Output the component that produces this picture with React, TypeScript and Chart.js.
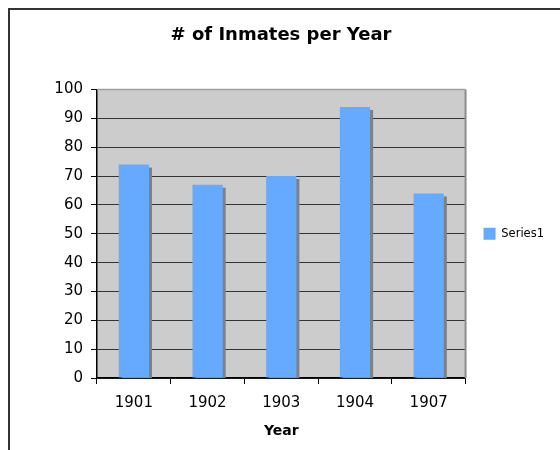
import React, { useEffect, useRef } from "react";
import { Chart, registerables } from "chart.js";

Chart.register(...registerables);

const categories = ["1901", "1902", "1903", "1904", "1907"];
const seriesName = "Series1";
const inmates = [74, 67, 70, 94, 64];
const yMin = 0;
const yMax = 100;
const yStep = 10;

const FONT = "'DejaVu Sans', Verdana, sans-serif";

const plotDecor = {
  id: "plotDecor",
  beforeDraw(chart: any) {
    const { ctx, chartArea } = chart;
    ctx.save();
    ctx.fillStyle = "#CCCCCC";
    ctx.fillRect(chartArea.left, chartArea.top, chartArea.right - chartArea.left, chartArea.bottom - chartArea.top);
    ctx.restore();
  },
  afterDatasetsDraw(chart: any) {
    const { ctx, chartArea } = chart;
    ctx.save();
    ctx.strokeStyle = "#8c8c8c";
    ctx.lineWidth = 2;
    ctx.beginPath();
    ctx.moveTo(chartArea.right, chartArea.bottom);
    ctx.lineTo(chartArea.right, chartArea.top);
    ctx.stroke();
    ctx.strokeStyle = "#a0a0a0";
    ctx.lineWidth = 1.5;
    ctx.beginPath();
    ctx.moveTo(chartArea.left, chartArea.top);
    ctx.lineTo(chartArea.right, chartArea.top);
    ctx.stroke();
    ctx.restore();
  },
  beforeDatasetDraw(chart: any) {
    const { ctx } = chart;
    ctx.save();
    ctx.shadowColor = "#808080";
    ctx.shadowOffsetX = 3;
    ctx.shadowOffsetY = 3;
    ctx.shadowBlur = 0;
  },
  afterDatasetDraw(chart: any) {
    chart.ctx.restore();
  },
};

export default function App() {
  const ref = useRef<HTMLCanvasElement | null>(null);

  useEffect(() => {
    if (!ref.current) return;
    const chart = new Chart(ref.current, {
      type: "bar",
      data: {
        labels: categories,
        datasets: [
          {
            label: seriesName,
            data: inmates,
            backgroundColor: "#66AAFF",
            borderWidth: 0,
            barPercentage: 0.41,
            categoryPercentage: 1,
            clip: 0,
          },
        ],
      },
      options: {
        animation: false,
        responsive: false,
        maintainAspectRatio: false,
        layout: { padding: { left: 8, right: 6, top: 0, bottom: 0 } },
        plugins: {
          tooltip: { enabled: false },
          title: {
            display: true,
            text: "# of Inmates per Year",
            color: "#000",
            font: { family: FONT, size: 18, weight: "bold" },
            padding: { top: 25, bottom: 43 },
          },
          legend: {
            position: "right",
            fullSize: false,
            labels: {
              boxWidth: 12,
              boxHeight: 12,
              padding: 18,
              color: "#000",
              font: { family: FONT, size: 11.5 },
            },
          },
        },
        scales: {
          x: {
            offset: true,
            grid: {
              offset: true,
              drawOnChartArea: false,
              drawTicks: true,
              tickLength: 6,
              tickColor: "#000",
            },
            border: { display: true, color: "#000", width: 1.5 },
            ticks: {
              color: "#000",
              padding: 10,
              maxRotation: 0,
              font: { family: FONT, size: 15 },
            },
            title: {
              display: true,
              text: "Year",
              color: "#000",
              font: { family: FONT, size: 14, weight: "bold" },
              padding: { top: 4, bottom: 10 },
            },
            afterFit: (scale: any) => {
              scale.height = 72;
            },
          },
          y: {
            min: yMin,
            max: yMax,
            ticks: {
              stepSize: yStep,
              color: "#000",
              padding: 8,
              font: { family: FONT, size: 15 },
            },
            grid: {
              color: (c: any) => (c.tick && c.tick.value === yMax ? "rgba(0,0,0,0)" : "#333333"),
              lineWidth: 1,
              tickLength: 6,
              tickColor: "#000",
            },
            border: { display: true, color: "#000", width: 1.5 },
            afterFit: (scale: any) => {
              scale.width = 89;
            },
          },
        },
      },
      plugins: [plotDecor],
    });
    return () => chart.destroy();
  }, []);

  return (
    <div style={{ position: "fixed", left: 0, top: 0, width: 560, height: 450, background: "#fff", overflow: "hidden" }}>
      <canvas ref={ref} width={560} height={450} style={{ position: "absolute", left: 0, top: 0 }} />
      <div
        style={{
          position: "absolute",
          left: 8,
          top: 8,
          width: 700,
          height: 700,
          border: "2px solid #333",
          boxSizing: "border-box",
          pointerEvents: "none",
        }}
      />
    </div>
  );
}
